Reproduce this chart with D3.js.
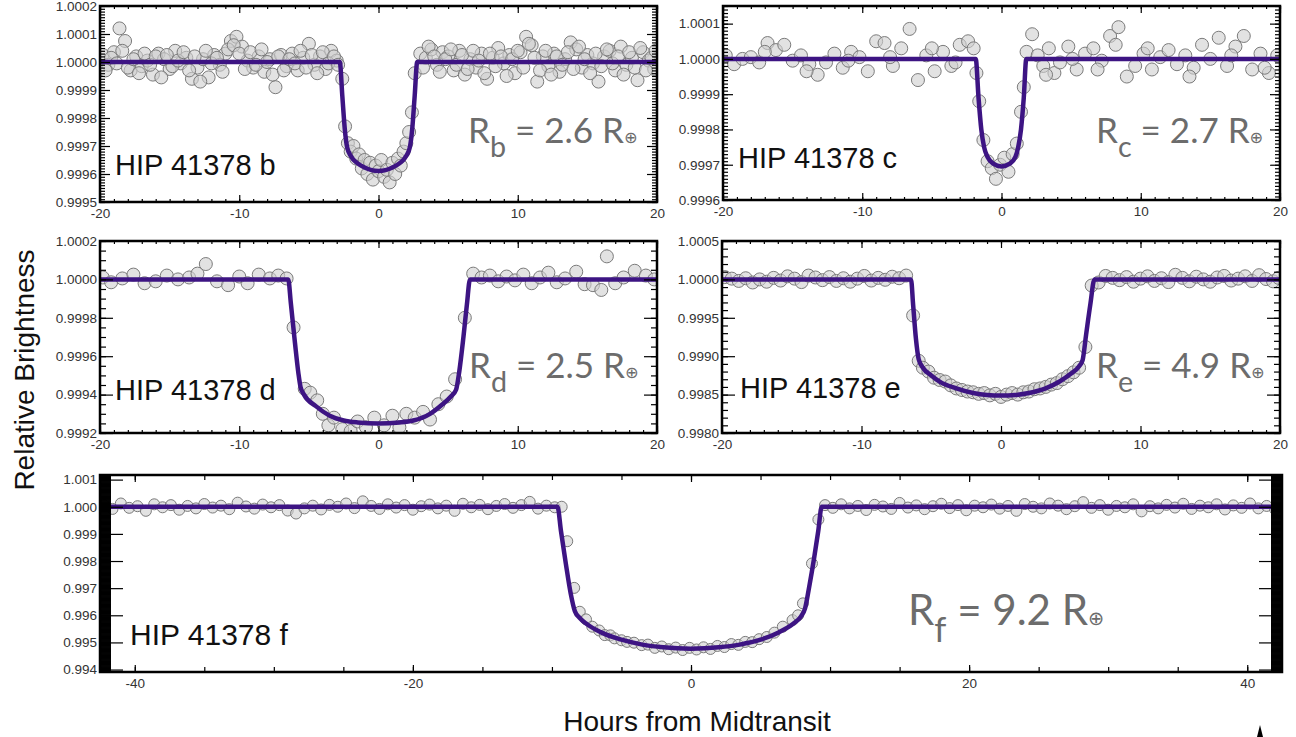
<!DOCTYPE html>
<html>
<head>
<meta charset="utf-8">
<script src="https://cdn.jsdelivr.net/npm/d3@7"></script>
<style>
    body { margin: 0; background: #fff; }
    svg  { display: block; }
    text { font-family: "Liberation Sans", Arial, sans-serif; }
</style>
</head>
<body>
<svg id="chart" width="1296" height="737"></svg>
<script>
// flux values are written as offset from 1.0 in parts per million
// [hours from midtransit, ppm]

const planetNames  = ['HIP 41378 b', 'HIP 41378 c', 'HIP 41378 d', 'HIP 41378 e', 'HIP 41378 f'];
const planetLetter = ['b', 'c', 'd', 'e', 'f'];
const planetRadius = ['2.6', '2.7', '2.5', '4.9', '9.2'];

const bPoints = [
    [-19.8,25],[-19.4,-10],[-19.0,35],[-18.6,120],[-18.2,75],[-17.8,-30],[-17.4,20],[-17.0,-15],[-16.6,5],[-16.2,-45],
    [-15.8,30],[-15.4,10],[-15.0,-25],[-14.6,40],[-14.2,-5],[-13.8,15],[-13.4,-60],[-13.0,-20],[-12.6,10],[-12.2,-55],
    [-11.8,25],[-11.4,-10],[-11.0,30],[-10.6,75],[-10.2,90],[-9.8,55],[-9.4,5],[-9.0,-20],[-8.6,20],[-8.2,-35],
    [-7.8,10],[-7.4,-90],[-7.0,25],[-6.6,-15],[-6.2,30],[-5.8,-30],[-5.4,15],[-5.0,65],[-4.6,-10],[-4.2,20],
    [-3.8,-25],[-3.4,40],[-3.0,5],
    [-19.6,-30],[-19.2,15],[-18.8,-5],[-18.4,40],[-18.0,-20],[-17.6,10],[-17.2,-40],[-16.8,30],[-16.4,-10],[-16.0,20],
    [-15.6,-55],[-15.2,25],[-14.8,-15],[-14.4,5],[-14.0,35],[-13.6,-30],[-13.2,20],[-12.8,-70],[-12.4,40],[-12.0,-5],
    [-11.6,15],[-11.2,-35],[-10.8,45],[-10.4,60],[-10.0,30],[-9.6,-25],[-9.2,35],[-8.8,-10],[-8.4,45],[-8.0,0],
    [-7.6,-45],[-7.2,20],[-6.8,-30],[-6.4,10],[-6.0,-5],[-5.6,40],[-5.2,-20],[-4.8,25],[-4.4,-40],[-4.0,35],
    [-3.6,-5],[-3.2,20],[-2.9,-10],
    [-2.6,-60],[-2.4,-230],[-2.2,-290],[-2.0,-320],[-1.8,-300],[-1.6,-345],[-1.4,-330],[-1.2,-380],[-1.0,-350],
    [-0.8,-400],[-0.6,-360],[-0.4,-420],[-0.2,-370],[0.0,-390],[0.2,-350],[0.4,-410],[0.6,-385],[0.8,-430],
    [1.0,-360],[1.2,-400],[1.4,-345],[1.6,-370],[1.8,-320],[2.0,-290],[2.2,-250],[2.4,-180],[2.6,-40],
    [3.0,30],[3.4,15],[3.8,45],[4.2,-10],[4.6,35],[5.0,20],[5.4,-30],[5.8,40],[6.2,-45],[6.6,10],
    [7.0,-20],[7.4,30],[7.8,-60],[8.2,15],[8.6,50],[9.0,-5],[9.4,25],[9.8,-40],[10.2,35],[10.6,90],
    [11.0,60],[11.4,-70],[11.8,20],[12.2,-15],[12.6,30],[13.0,-35],[13.4,10],[13.8,70],[14.2,45],[14.6,-20],
    [15.0,25],[15.4,-5],[15.8,-70],[16.2,20],[16.6,40],[17.0,-30],[17.4,55],[17.8,-10],[18.2,15],[18.6,-65],
    [19.0,35],[19.4,5],[19.8,-25],
    [3.2,-20],[3.6,55],[4.0,20],[4.4,-35],[4.8,10],[5.2,45],[5.6,-10],[6.0,25],[6.4,-25],[6.8,40],
    [7.2,5],[7.6,-40],[8.0,30],[8.4,-15],[8.8,20],[9.2,-50],[9.6,10],[10.0,40],[10.4,-20],[10.8,65],
    [11.2,15],[11.6,-30],[12.0,40],[12.4,-45],[12.8,20],[13.2,-10],[13.6,35],[14.0,-25],[14.4,55],[14.8,10],
    [15.2,-40],[15.6,30],[16.0,-15],[16.4,45],[16.8,-5],[17.2,20],[17.6,-45],[18.0,35],[18.4,-20],[18.8,50],
    [19.2,-30],[19.6,15],[19.9,40]
];

const cPoints = [
    [-19.8,10],[-19.2,-15],[-18.6,0],[-18.0,5],[-17.4,-10],[-16.8,45],[-16.2,25],[-15.6,40],[-15.0,-5],[-14.4,10],
    [-13.8,-15],[-13.2,-45],[-12.6,-10],[-12.0,15],[-11.4,-25],[-10.8,20],[-10.2,5],[-9.6,-35],[-9.0,50],[-8.4,45],
    [-7.8,-20],[-7.2,30],[-6.6,85],[-6.0,-60],[-5.4,10],[-4.8,-35],[-4.2,20],[-3.6,-20],[-3.0,40],[-2.4,50],
    [-2.0,30],[-1.8,-40],[-1.6,-120],[-1.3,-230],[-1.0,-290],[-0.7,-310],[-0.4,-340],[-0.1,-300],[0.2,-280],
    [0.5,-320],[0.8,-270],[1.1,-240],[1.4,-150],[1.6,-80],[1.8,20],
    [2.2,70],[2.6,10],[3.0,-20],[3.4,30],[3.8,-40],[4.2,-10],[4.8,35],[5.4,-30],[6.0,15],[6.6,30],
    [7.2,-5],[7.8,65],[8.2,40],[8.4,90],[9.0,-50],[9.6,-20],[10.2,15],[10.8,-30],[11.4,5],[12.0,25],
    [12.6,-15],[13.2,10],[13.8,-25],[14.4,40],[15.0,0],[15.6,60],[16.2,-20],[16.8,35],[17.4,65],[18.0,-30],
    [18.6,15],[19.2,-40],[19.8,10],
    [-17.0,20],[-14.0,-35],[-11.0,-5],[-8.0,5],[-5.0,30],[-3.3,-10],[3.2,-45],[5.1,0],[6.9,-30],[10.5,30],
    [13.5,-50],[16.5,10],[18.9,-25]
];

const dPoints = [
    [-19.8,10],[-19.2,-15],[-18.4,5],[-17.6,25],[-16.8,-20],[-16.0,-10],[-15.2,20],[-14.4,0],[-13.6,10],[-13.0,30],
    [-12.4,80],[-11.6,-10],[-10.8,-30],[-10.0,15],[-9.4,-20],[-8.6,25],[-7.8,5],[-7.2,20],[-6.6,5],[-6.1,-250],
    [-5.3,-570],[-4.9,-590],[-4.4,-630],[-4.0,-700],[-3.6,-760],[-3.2,-720],[-2.6,-780],[-2.0,-790],[-1.5,-740],
    [-0.9,-770],[-0.3,-720],[0.4,-760],[1.0,-710],[1.5,-770],[2.0,-700],[2.6,-720],[3.2,-690],[3.7,-730],
    [4.3,-650],[4.9,-610],[5.5,-520],[6.2,-200],
    [6.8,30],[7.4,10],[8.0,20],[8.6,-10],[9.2,15],[9.8,-5],[10.4,25],[11.0,-20],[11.6,10],[12.2,35],
    [12.8,-15],[13.4,5],[14.2,40],[14.8,-25],[15.4,-30],[16.0,-55],[16.4,120],[17.0,-20],[17.6,10],[18.4,45],
    [19.2,20],[19.8,0]
];

const ePoints = [
    [-19.8,30],[-19.3,10],[-18.8,-20],[-18.3,15],[-17.8,-40],[-17.3,0],[-16.8,-30],[-16.3,20],[-15.8,-15],[-15.3,40],
    [-14.8,10],[-14.3,-35],[-13.8,50],[-13.3,25],[-12.8,-10],[-12.3,30],[-11.8,-20],[-11.3,15],[-10.8,-30],[-10.3,10],
    [-9.8,45],[-9.3,-15],[-8.8,20],[-8.3,-5],[-7.8,35],[-7.3,15],[-6.8,50],
    [-6.3,-470],[-5.9,-1060],[-5.6,-1150],[-5.2,-1200],[-4.8,-1280],[-4.4,-1310],[-4.0,-1330],[-3.6,-1380],
    [-3.2,-1420],[-2.8,-1440],[-2.4,-1460],[-2.0,-1470],[-1.6,-1490],[-1.2,-1480],[-0.8,-1510],[-0.4,-1490],
    [0.0,-1530],[0.4,-1500],[0.8,-1480],[1.2,-1500],[1.6,-1470],[2.0,-1460],[2.4,-1430],[2.8,-1420],[3.2,-1400],
    [3.6,-1370],[4.0,-1350],[4.4,-1300],[4.8,-1260],[5.2,-1210],[5.6,-1150],[6.05,-880],[6.5,-80],
    [7.0,-40],[7.5,45],[8.0,20],[8.5,-10],[9.0,30],[9.5,-30],[10.0,10],[10.5,40],[11.0,-20],[11.5,15],
    [12.0,-35],[12.5,60],[13.0,20],[13.5,-25],[14.0,35],[14.5,0],[15.0,-30],[15.5,25],[16.0,45],[16.5,-15],
    [17.0,10],[17.5,40],[18.0,-20],[18.5,55],[19.0,5],[19.5,-25],[19.9,20]
];

const fPoints = [
    [-42.2,50],[-41.6,-80],[-41.0,120],[-40.4,-40],[-39.8,20],[-39.2,-150],[-38.6,90],[-38.0,-20],[-37.4,60],[-36.8,-110],
    [-36.2,30],[-35.6,-60],[-35.0,100],[-34.4,-30],[-33.8,40],[-33.2,-90],[-32.6,150],[-32.0,10],[-31.4,-70],[-30.8,80],
    [-30.2,-20],[-29.6,60],[-29.0,-140],[-28.4,-250],[-27.8,-60],[-27.2,40],[-26.6,-100],[-26.0,70],[-25.4,0],[-24.8,120],
    [-24.2,-50],[-23.6,200],[-23.0,30],[-22.4,-80],[-21.8,90],[-21.2,-30],[-20.6,60],[-20.0,-110],[-19.4,20],[-18.8,80],
    [-18.2,-60],[-17.6,40],[-17.0,-150],[-16.4,110],[-15.8,-20],[-15.2,70],[-14.6,-90],[-14.0,30],[-13.4,100],[-12.8,-40],
    [-12.2,60],[-11.6,180],[-11.0,-70],[-10.4,40],[-9.8,-20],
    [-9.3,0],[-8.9,-1270],[-8.4,-2990],[-8.0,-3870],[-7.55,-4150],[-7.1,-4420],[-6.6,-4560],[-6.2,-4730],[-5.8,-4740],
    [-5.5,-4850],[-5.0,-4920],[-4.6,-4980],[-4.1,-5010],[-3.55,-5100],[-3.1,-5080],[-2.6,-5200],[-2.1,-5150],[-1.6,-5250],
    [-1.1,-5190],[-0.6,-5280],[-0.1,-5200],[0.4,-5260],[0.9,-5180],[1.4,-5240],[1.9,-5130],[2.4,-5170],[2.9,-5060],
    [3.4,-5090],[3.9,-4980],[4.4,-4990],[4.9,-4880],[5.45,-4800],[6.0,-4640],[6.6,-4420],[7.3,-4180],[7.7,-4000],
    [8.05,-3560],[8.7,-2090],[9.16,-470],[9.64,60],
    [10.2,-40],[10.8,90],[11.4,-60],[12.0,30],[12.6,-120],[13.2,70],[13.8,10],[14.4,-80],[15.0,140],[15.6,-30],
    [16.2,50],[16.8,-90],[17.4,20],[18.0,110],[18.6,-50],[19.2,60],[19.8,-130],[20.4,40],[21.0,-20],[21.6,80],
    [22.2,-70],[22.8,30],[23.4,-150],[24.0,100],[24.6,0],[25.2,-60],[25.8,120],[26.4,40],[27.0,-90],[27.6,20],
    [28.2,170],[28.8,-40],[29.4,60],[30.0,-110],[30.6,30],[31.2,-20],[31.8,90],[32.4,-170],[33.0,20],[33.6,-60],
    [34.2,70],[34.8,-30],[35.4,110],[36.0,-80],[36.6,40],[37.2,-20],[37.8,90],[38.4,-100],[39.0,50],[39.6,-40],
    [40.2,120],[40.8,-60],[41.4,30],[42.0,-90]
];

// transit model curves
const bModel = [[-20,0],[-2.78,0],[-2.6,-120],[-2.42,-240],[-2.25,-305],[-2.0,-335],[-1.5,-362],[-1,-377],[-0.5,-386],[0,-389],
                [0.5,-386],[1,-377],[1.5,-362],[2.0,-335],[2.25,-305],[2.42,-240],[2.6,-120],[2.78,0],[20,0]];
const cModel = [[-20,0],[-1.85,0],[-1.65,-110],[-1.45,-200],[-1.25,-250],[-1.0,-278],[-0.6,-297],[0,-305],
                [0.6,-297],[1.0,-278],[1.2,-250],[1.4,-200],[1.6,-110],[1.78,0],[20,0]];
const dModel = [[-20,0],[-6.48,0],[-6.3,-120],[-6.0,-330],[-5.75,-490],[-5.6,-560],[-5.35,-600],[-4.5,-660],[-3.5,-710],
                [-2.5,-735],[-1.5,-745],[0,-750],[1.5,-745],[2.5,-735],[3.7,-700],[4.6,-650],[5.2,-610],[5.57,-575],
                [5.8,-480],[6.1,-300],[6.35,-130],[6.57,0],[20,0]];
const eModel = [[-20,0],[-6.45,0],[-6.3,-330],[-6.1,-770],[-5.9,-1040],[-5.6,-1150],[-5,-1250],[-4.4,-1330],[-3.2,-1420],
                [-2,-1480],[-1,-1505],[0,-1512],[1,-1505],[2,-1480],[3.2,-1420],[4.2,-1330],[5,-1230],[5.6,-1130],
                [5.85,-1050],[6.1,-720],[6.4,-330],[6.7,0],[20,0]];
const fModel = [[-42.5,0],[-9.6,0],[-9.35,-900],[-9.0,-2100],[-8.65,-3200],[-8.35,-3850],[-8.0,-4100],[-7.5,-4320],
                [-6.5,-4620],[-5,-4900],[-3.5,-5080],[-2,-5180],[0,-5230],[2,-5180],[3.5,-5080],[5,-4900],[6.3,-4630],
                [7.3,-4330],[7.9,-4050],[8.2,-3750],[8.5,-2950],[8.85,-1900],[9.15,-900],[9.4,0],[42.5,0]];

const shortXTicks = [-20, -10, 0, 10, 20];
const longXTicks  = [-40, -20, 0, 20, 40];

const yTickB = [0.9995, 0.9996, 0.9997, 0.9998, 0.9999, 1.0000, 1.0001, 1.0002];
const yTickC = [0.9996, 0.9997, 0.9998, 0.9999, 1.0000, 1.0001];
const yTickD = [0.9992, 0.9994, 0.9996, 0.9998, 1.0000, 1.0002];
const yTickE = [0.9980, 0.9985, 0.9990, 0.9995, 1.0000, 1.0005];
const yTickF = [0.994, 0.995, 0.996, 0.997, 0.998, 0.999, 1.000, 1.001];


let svg = d3.select('#chart');

let toFlux = ppm => 1 + ppm * 1e-6;

let panels = [
    { points: bPoints, model: bModel, box: [100, 6, 657, 202],   xDomain: [-20, 20],     yDomain: [0.9995, 1.0002],
      xTicks: shortXTicks, xMinor: 1, yTicks: yTickB, yMinor: 0.00001, digits: 4, r: 6.5,
      majorLen: 10, minorLen: 5, name: [115, 175], rad: [468, 143, 35] },
    { points: cPoints, model: cModel, box: [723, 6, 1280, 200],  xDomain: [-20, 20],     yDomain: [0.9996, 1.00015],
      xTicks: shortXTicks, xMinor: 1, yTicks: yTickC, yMinor: 0.00001, digits: 4, r: 6.5,
      majorLen: 10, minorLen: 5, name: [738, 168], rad: [1096, 143, 35] },
    { points: dPoints, model: dModel, box: [100, 241, 657, 433], xDomain: [-20, 20],     yDomain: [0.9992, 1.0002],
      xTicks: shortXTicks, xMinor: 1, yTicks: yTickD, yMinor: 0.00005, digits: 4, r: 6.5,
      majorLen: 13, minorLen: 6, name: [115, 400], rad: [469, 378, 35] },
    { points: ePoints, model: eModel, box: [722, 241, 1280, 433], xDomain: [-20, 20],    yDomain: [0.998, 1.0005],
      xTicks: shortXTicks, xMinor: 1, yTicks: yTickE, yMinor: 0.0001, digits: 4, r: 6.5,
      majorLen: 13, minorLen: 6, name: [740, 398], rad: [1096, 378, 35] },
    { points: fPoints, model: fModel, box: [100, 475, 1282, 672], xDomain: [-42.5, 42.5], yDomain: [0.99391, 1.00117],
      xTicks: longXTicks, xMinor: 5, yTicks: yTickF, yMinor: 0.00002, digits: 3, r: 5.5,
      majorLen: 23, minorLen: 11, name: [130, 645], rad: [908, 625, 42] }
];

function minorValues (domain, step) {
    let n = Math.floor((domain[1] - domain[0]) / step + 1e-6);
    let start = Math.ceil(domain[0] / step - 1e-6) * step;
    return d3.range(n + 1).map(i => start + i * step).filter(v => v <= domain[1]);
}

function styleAxis (g) {
    g.select('.domain').remove();
    g.selectAll('line').attr('stroke', '#000').attr('stroke-width', 1.2);
    g.selectAll('text')
        .attr('fill', '#333')
        .style('font-size', '13.5px')
        .style('font-family', '"Liberation Sans", Arial, sans-serif');
}

panels.forEach((p, i) => {
    let [x0, y0, x1, y1] = p.box;

    let x = d3.scaleLinear().domain(p.xDomain).range([x0, x1]);
    let y = d3.scaleLinear().domain(p.yDomain).range([y1, y0]);

    let g = svg.append('g');

    g.append('clipPath')
        .attr('id', 'clip' + i)
        .append('rect')
        .attr('x', x0).attr('y', y0)
        .attr('width', x1 - x0).attr('height', y1 - y0);

    let inner = g.append('g').attr('clip-path', 'url(#clip' + i + ')');

    inner.selectAll('circle')
        .data(p.points)
        .join('circle')
        .attr('cx', d => x(d[0]))
        .attr('cy', d => y(toFlux(d[1])))
        .attr('r', p.r)
        .attr('fill', '#cfcfcf')
        .attr('fill-opacity', 0.6)
        .attr('stroke', '#7b7b7b')
        .attr('stroke-width', 1);

    let line = d3.line()
        .x(d => x(d[0]))
        .y(d => y(toFlux(d[1])))
        .curve(d3.curveMonotoneX);

    inner.append('path')
        .datum(p.model)
        .attr('d', line)
        .attr('fill', 'none')
        .attr('stroke', '#3d1483')
        .attr('stroke-width', 4.5)
        .attr('stroke-linejoin', 'round');

    // minor ticks
    let xMinorVals = minorValues(p.xDomain, p.xMinor);
    let yMinorVals = minorValues(p.yDomain, p.yMinor);
    let xMinorLen  = p.xMinor === 1 ? 3 : 5;

    g.append('g').attr('transform', `translate(0,${y1})`)
        .call(d3.axisBottom(x).tickValues(xMinorVals).tickSize(-xMinorLen).tickFormat(''))
        .call(styleAxis);
    g.append('g').attr('transform', `translate(0,${y0})`)
        .call(d3.axisTop(x).tickValues(xMinorVals).tickSize(-xMinorLen).tickFormat(''))
        .call(styleAxis);
    g.append('g').attr('transform', `translate(${x0},0)`)
        .call(d3.axisLeft(y).tickValues(yMinorVals).tickSize(-p.minorLen).tickFormat(''))
        .call(styleAxis);
    g.append('g').attr('transform', `translate(${x1},0)`)
        .call(d3.axisRight(y).tickValues(yMinorVals).tickSize(-p.minorLen).tickFormat(''))
        .call(styleAxis);

    // major ticks and labels (plain hyphen for negatives, as in the original)
    g.append('g').attr('transform', `translate(0,${y1})`)
        .call(d3.axisBottom(x).tickValues(p.xTicks).tickSize(-7).tickPadding(6).tickFormat(d => String(d)))
        .call(styleAxis);
    g.append('g').attr('transform', `translate(0,${y0})`)
        .call(d3.axisTop(x).tickValues(p.xTicks).tickSize(-7).tickFormat(''))
        .call(styleAxis);
    g.append('g').attr('transform', `translate(${x0},0)`)
        .call(d3.axisLeft(y).tickValues(p.yTicks).tickSize(-p.majorLen).tickPadding(3).tickFormat(d => d.toFixed(p.digits)))
        .call(styleAxis);
    g.append('g').attr('transform', `translate(${x1},0)`)
        .call(d3.axisRight(y).tickValues(p.yTicks).tickSize(-p.majorLen).tickFormat(''))
        .call(styleAxis);

    g.append('rect')
        .attr('x', x0).attr('y', y0)
        .attr('width', x1 - x0).attr('height', y1 - y0)
        .attr('fill', 'none')
        .attr('stroke', '#000')
        .attr('stroke-width', 2.5);

    // planet name
    g.append('text')
        .attr('x', p.name[0])
        .attr('y', p.name[1])
        .attr('fill', '#111')
        .style('font-size', i === 4 ? '30px' : '29px')
        .text(planetNames[i]);

    // radius label
    let [rx, ry, rs] = p.rad;
    let t = g.append('text')
        .attr('x', rx)
        .attr('y', ry)
        .attr('fill', '#6c6c6c')
        .style('font-family', 'Lato, "Open Sans", sans-serif')
        .style('font-size', rs + 'px');
    t.append('tspan').text('R');
    t.append('tspan')
        .attr('dy', rs * 0.4)
        .style('font-size', (rs * 0.82) + 'px')
        .text(planetLetter[i]);
    t.append('tspan')
        .attr('dy', -rs * 0.4)
        .text(' = ' + planetRadius[i] + ' R');
    t.append('tspan')
        .style('font-size', (rs * 0.46) + 'px')
        .style('font-family', '"DejaVu Sans", sans-serif')
        .text('\u2295');
});

svg.append('text')
    .attr('transform', 'translate(34,370) rotate(-90)')
    .attr('text-anchor', 'middle')
    .attr('fill', '#111')
    .style('font-size', '28px')
    .text('Relative Brightness');

svg.append('text')
    .attr('x', 697)
    .attr('y', 731)
    .attr('text-anchor', 'middle')
    .attr('fill', '#111')
    .style('font-size', '28px')
    .text('Hours from Midtransit');

svg.append('path')
    .attr('d', 'M1257,737L1260,725L1263,737Z')
    .attr('fill', '#000');
</script>
</body>
</html>
